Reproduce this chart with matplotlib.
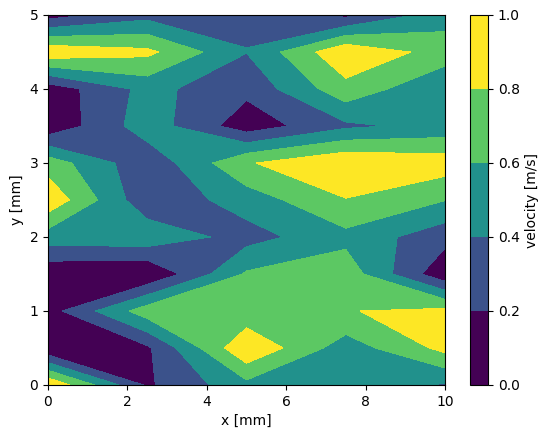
import numpy as np
import matplotlib
matplotlib.use("Agg")
import matplotlib.pyplot as plt

# grid positions [mm]
x = [0, 2.5, 5, 7.5, 10]
y = [0, 0.5, 1, 1.5, 2, 2.5, 3, 3.5, 4, 4.5, 5]

# velocity at each grid node, one row per y value
v_y00 = [0.98, 0.17, 0.54, 0.50, 0.38]
v_y05 = [0.02, 0.165, 0.98, 0.49, 0.86]
v_y10 = [0.115, 0.71, 0.65, 0.79, 0.86]
v_y15 = [0.04, 0.0, 0.625, 0.72, 0.04]
v_y20 = [0.50, 0.54, 0.32, 0.54, 0.27]
v_y25 = [0.95, 0.25, 0.49, 0.79, 0.605]
v_y30 = [0.71, 0.25, 0.78, 0.985, 0.91]
v_y35 = [0.04, 0.51, 0.085, 0.36, 0.46]
v_y40 = [0.075, 0.465, 0.25, 0.73, 0.42]
v_y45 = [0.95, 0.85, 0.405, 0.97, 0.71]
v_y50 = [0.11, 0.33, 0.36, 0.15, 0.51]

levels = [0, 0.2, 0.4, 0.6, 0.8, 1.0]

V = np.array([v_y00, v_y05, v_y10, v_y15, v_y20, v_y25,
              v_y30, v_y35, v_y40, v_y45, v_y50])
X, Y = np.meshgrid(x, y)

fig = plt.figure(figsize=(5.49, 4.38), dpi=100)
ax = fig.add_axes([48/549, 53/438, 397/549, 370/438])
cax = fig.add_axes([470/549, 53/438, 18/549, 370/438])

# colours spread over the layer midpoints (darkest purple .. brightest yellow)
cs = ax.contourf(X, Y, V, levels=levels, cmap='viridis', vmin=0.1, vmax=0.9)
ax.set_xlabel('x [mm]')
ax.set_ylabel('y [mm]')

cb = fig.colorbar(cs, cax=cax)
cb.set_label('velocity [m/s]')

fig.savefig('out.png', dpi=100)
